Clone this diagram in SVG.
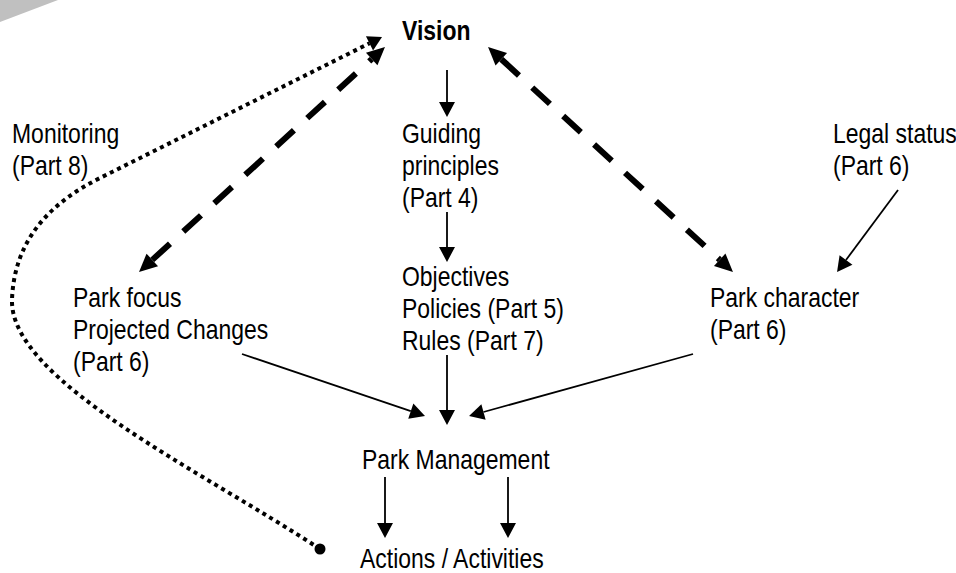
<svg xmlns="http://www.w3.org/2000/svg" width="956" height="573" viewBox="0 0 956 573">
<style>
  .t { font-family: "Liberation Sans", Arial, sans-serif; font-size: 28px; fill: #000; }
  .b { font-weight: bold; }
  .thin { fill: none; stroke: #000; stroke-width: 1.8; marker-end: url(#ah); }
  .dash { fill: none; stroke: #000; stroke-width: 6; stroke-dasharray: 24 18; marker-start: url(#bh); marker-end: url(#bh); }
  .dot { fill: none; stroke: #000; stroke-width: 4; stroke-dasharray: 4 4; marker-end: url(#dh); }
</style>
<defs>
  <marker id="ah" markerUnits="userSpaceOnUse" markerWidth="20" markerHeight="20" refX="0" refY="0" viewBox="0 -10 20 20" orient="auto" overflow="visible">
    <path d="M0,-8 L15,0 L0,8 z" fill="#000"/>
  </marker>
  <marker id="bh" markerUnits="userSpaceOnUse" markerWidth="24" markerHeight="24" refX="0" refY="0" viewBox="0 -12 24 24" orient="auto-start-reverse" overflow="visible">
    <path d="M0,-8.5 L18,0 L0,8.5 z" fill="#000"/>
  </marker>
  <marker id="dh" markerUnits="userSpaceOnUse" markerWidth="20" markerHeight="20" refX="0" refY="0" viewBox="0 -10 20 20" orient="auto" overflow="visible">
    <path d="M0,-8 L14,0 L0,8 z" fill="#000"/>
  </marker>
</defs>
<rect width="956" height="573" fill="#fff"/>
<polygon points="0,0 58,0 0,22" fill="#c0c0c0"/>

<g id="connectors">
  <path class="dash" d="M152.3,259.9 L371.7,59.1"/>
  <path class="dash" d="M501.3,59.2 L719.7,259.8"/>
  <path class="dot" d="M320,549 C200,470 10,380 12,300 C14,240 50,203 100,178 L369.5,43.3"/>
  <circle cx="320" cy="549" r="5.5" fill="#000"/>
  <path class="thin" d="M447,70 L447,102"/>
  <path class="thin" d="M447,212 L447,247"/>
  <path class="thin" d="M447,355 L447,410"/>
  <path class="thin" d="M242,354 L410.8,411.2"/>
  <path class="thin" d="M693,354 L483.5,412"/>
  <path class="thin" d="M898,190 L846,260"/>
  <path class="thin" d="M385,477 L385,523"/>
  <path class="thin" d="M508,477 L508,523"/>
</g>

<g id="vision" transform="translate(402,40) scale(0.82,1)">
  <text class="t b" x="0" y="0">Vision</text>
</g>
<g id="monitoring" transform="translate(12,143) scale(0.82,1)">
  <text class="t" x="0" y="0">Monitoring<tspan x="0" dy="32">(Part 8)</tspan></text>
</g>
<g id="guiding" transform="translate(402,143) scale(0.82,1)">
  <text class="t" x="0" y="0">Guiding<tspan x="0" dy="32">principles</tspan><tspan x="0" dy="32">(Part 4)</tspan></text>
</g>
<g id="legal" transform="translate(833,143) scale(0.82,1)">
  <text class="t" x="0" y="0">Legal status<tspan x="0" dy="32">(Part 6)</tspan></text>
</g>
<g id="objectives" transform="translate(402,286) scale(0.82,1)">
  <text class="t" x="0" y="0">Objectives<tspan x="0" dy="32">Policies (Part 5)</tspan><tspan x="0" dy="32">Rules (Part 7)</tspan></text>
</g>
<g id="parkfocus" transform="translate(73,307) scale(0.82,1)">
  <text class="t" x="0" y="0">Park focus<tspan x="0" dy="32">Projected Changes</tspan><tspan x="0" dy="32">(Part 6)</tspan></text>
</g>
<g id="parkcharacter" transform="translate(710,307) scale(0.82,1)">
  <text class="t" x="0" y="0">Park character<tspan x="0" dy="32">(Part 6)</tspan></text>
</g>
<g id="parkmanagement" transform="translate(362,469) scale(0.82,1)">
  <text class="t" x="0" y="0">Park Management</text>
</g>
<g id="actions" transform="translate(360,568) scale(0.82,1)">
  <text class="t" x="0" y="0">Actions / Activities</text>
</g>
</svg>
